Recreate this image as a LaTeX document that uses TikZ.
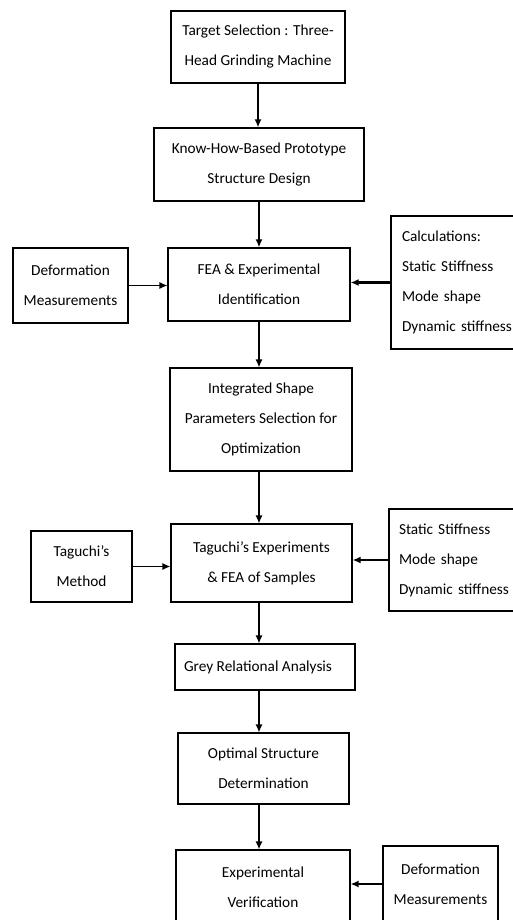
\documentclass[tikz,border=0pt]{standalone}
\usepackage{fontspec}
\setmainfont{Carlito}
\usetikzlibrary{arrows.meta}
\begin{document}
\begin{tikzpicture}[x=1pt, y=-1pt,
    box/.style={draw, line width=1.2pt, align=center, inner sep=0pt, font=\fontsize{15.3}{30}\selectfont},
    lbox/.style={box, align=left, inner xsep=11pt, text width=115pt},
    flow/.style={-{Latex[length=8pt,width=7pt]}, line width=1.3pt},
    side/.style={-{Latex[length=8pt,width=7pt]}, line width=2.4pt}]
    \useasboundingbox (0,0) rectangle (512,920);
    \node[box, minimum width=174pt, minimum height=72pt] (tsel) at (258,47) {Target Selection : Three-\\Head Grinding Machine};
    \node[box, minimum width=210pt, minimum height=73pt] (proto) at (259,164.5) {Know-How-Based Prototype\\Structure Design};
    \node[box, minimum width=182pt, minimum height=73pt] (fea) at (259,284.5) {FEA \& Experimental\\Identification};
    \node[box, minimum width=115pt, minimum height=75pt] (defm) at (70.5,285.5) {Deformation\\Measurements};
    \node[lbox, minimum height=133pt] (calc) at (459.5,282.5) {Calculations:\\Static Stiffness\\Mode shape\\Dynamic stiffness};
    \node[box, minimum width=182pt, minimum height=103pt] (integ) at (261,419.5) {Integrated Shape\\Parameters Selection for\\Optimization};
    \node[box, minimum width=181pt, minimum height=78pt] (tag) at (261.5,563) {Taguchi’s Experiments\\\& FEA of Samples};
    \node[box, minimum width=101pt, minimum height=71pt] (tmeth) at (81.5,566.5) {Taguchi’s\\Method};
    \node[lbox, inner xsep=10pt, minimum height=102pt] (stiff) at (456.5,560) {Static Stiffness\\Mode shape\\Dynamic stiffness};
    \node[box, minimum width=180pt, minimum height=46pt] (grey) at (265,667) {Grey Relational Analysis\hspace{14pt}};
    \node[box, minimum width=171pt, minimum height=71pt] (optim) at (263.5,768.5) {Optimal Structure\\Determination};
    \node[box, minimum width=174pt, minimum height=74pt] (verif) at (263,887) {Experimental\\Verification};
    \node[box, minimum width=115pt, minimum height=76pt] (defmb) at (440.5,884) {Deformation\\Measurements};

    \draw[flow, line width=1.8pt] (tsel.south) -- (tsel.south |- proto.north);
    \draw[flow, line width=1.8pt] (proto.south) -- (proto.south |- fea.north);
    \draw[flow] (fea.south) -- (fea.south |- integ.north);
    \draw[flow] (fea.south |- integ.south) -- (fea.south |- tag.north);
    \draw[flow] (fea.south |- tag.south) -- (fea.south |- grey.north);
    \draw[flow] (fea.south |- grey.south) -- (fea.south |- optim.north);
    \draw[flow] (fea.south |- optim.south) -- (fea.south |- verif.north);
    \draw[flow] (defm.east) -- (defm.east -| fea.west);
    \draw[flow] (tmeth.east) -- (tmeth.east -| tag.west);
    \draw[side] (calc.west) -- (calc.west -| fea.east);
    \draw[side] (stiff.west) -- (stiff.west -| tag.east);
    \draw[side] (defmb.west) -- (defmb.west -| verif.east);
\end{tikzpicture}
\end{document}
